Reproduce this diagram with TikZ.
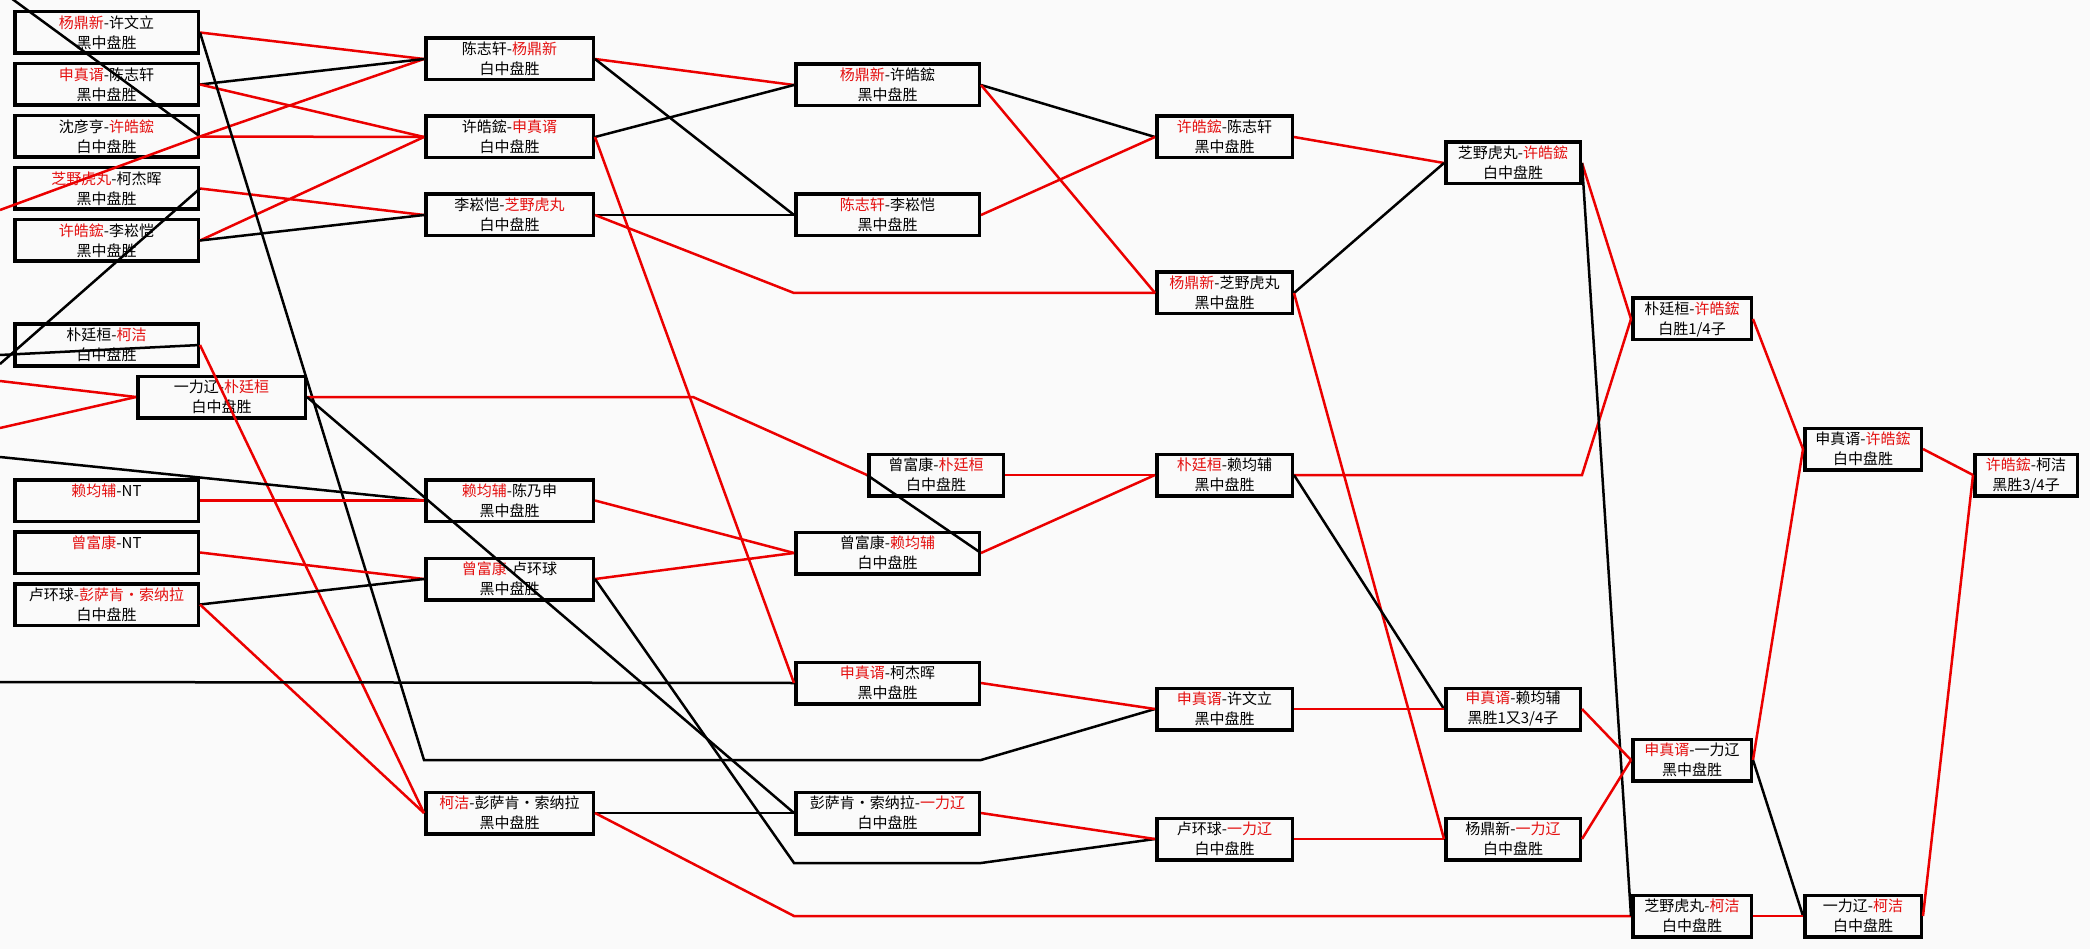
\documentclass[tikz,border=0pt]{standalone}
\usepackage{fontspec}
\setmainfont{Noto Sans CJK SC}
\definecolor{winred}{RGB}{235,0,0}
\definecolor{namered}{RGB}{228,16,16}
\definecolor{paper}{RGB}{250,250,250}
\newcommand{\rd}[1]{\textcolor{namered}{#1}}

\begin{document}
\begin{tikzpicture}[x=1pt, y=-1pt,
  game/.style={draw, line width=3.5pt, align=center, inner sep=0pt,
    minimum width=#1, minimum height=41.5pt, font=\fontsize{15}{20}\selectfont},
  wline/.style={draw=winred, line width=2.5pt},
  lline/.style={draw=black, line width=2.5pt}]
\clip (0,0) rectangle (2090,949);
\fill[paper] (0,0) rectangle (2090,949);

\node[game=183.5pt] (a1) at (106.5,32.5) {\rd{杨鼎新}-许文立\\黑中盘胜};
\node[game=183.5pt] (a2) at (106.5,84.5) {\rd{申真谞}-陈志轩\\黑中盘胜};
\node[game=183.5pt] (a3) at (106.5,136.5) {沈彦亨-\rd{许皓鋐}\\白中盘胜};
\node[game=183.5pt] (a4) at (106.5,188.5) {\rd{芝野虎丸}-柯杰晖\\黑中盘胜};
\node[game=183.5pt] (a5) at (106.5,240.5) {\rd{许皓鋐}-李崧恺\\黑中盘胜};
\node[game=183.5pt] (a6) at (106.5,345) {朴廷桓-\rd{柯洁}\\白中盘胜};
\node[game=167.5pt] (a7) at (221.5,397) {一力辽-\rd{朴廷桓}\\白中盘胜};
\node[game=183.5pt] (a8) at (106.5,500.5) {\rd{赖均辅}-NT\\~};
\node[game=183.5pt] (a9) at (106.5,552.5) {\rd{曾富康}-NT\\~};
\node[game=183.5pt] (a10) at (106.5,604.5) {卢环球-\rd{彭萨肯・索纳拉}\\白中盘胜};

\node[game=167.5pt] (b1) at (509.5,59) {陈志轩-\rd{杨鼎新}\\白中盘胜};
\node[game=167.5pt] (b2) at (509.5,137) {许皓鋐-\rd{申真谞}\\白中盘胜};
\node[game=167.5pt] (b3) at (509.5,215) {李崧恺-\rd{芝野虎丸}\\白中盘胜};
\node[game=167.5pt] (b4) at (509.5,500.5) {\rd{赖均辅}-陈乃申\\黑中盘胜};
\node[game=167.5pt] (b5) at (509.5,579) {\rd{曾富康}-卢环球\\黑中盘胜};
\node[game=167.5pt] (b6) at (509.5,813) {\rd{柯洁}-彭萨肯・索纳拉\\黑中盘胜};

\node[game=183.5pt] (c1) at (887.5,85) {\rd{杨鼎新}-许皓鋐\\黑中盘胜};
\node[game=183.5pt] (c2) at (887.5,215) {\rd{陈志轩}-李崧恺\\黑中盘胜};
\node[game=134.5pt] (c3) at (936,475) {曾富康-\rd{朴廷桓}\\白中盘胜};
\node[game=183.5pt] (c4) at (887.5,553) {曾富康-\rd{赖均辅}\\白中盘胜};
\node[game=183.5pt] (c5) at (887.5,683) {\rd{申真谞}-柯杰晖\\黑中盘胜};
\node[game=183.5pt] (c6) at (887.5,813) {彭萨肯・索纳拉-\rd{一力辽}\\白中盘胜};

\node[game=135.5pt] (d1) at (1224.5,137) {\rd{许皓鋐}-陈志轩\\黑中盘胜};
\node[game=135.5pt] (d2) at (1224.5,293) {\rd{杨鼎新}-芝野虎丸\\黑中盘胜};
\node[game=135.5pt] (d3) at (1224.5,475) {\rd{朴廷桓}-赖均辅\\黑中盘胜};
\node[game=135.5pt] (d4) at (1224.5,709) {\rd{申真谞}-许文立\\黑中盘胜};
\node[game=135.5pt] (d5) at (1224.5,839) {卢环球-\rd{一力辽}\\白中盘胜};

\node[game=134.5pt] (e1) at (1513,163) {芝野虎丸-\rd{许皓鋐}\\白中盘胜};
\node[game=134.5pt] (e2) at (1513,709) {\rd{申真谞}-赖均辅\\黑胜1又3/4子};
\node[game=134.5pt] (e3) at (1513,839) {杨鼎新-\rd{一力辽}\\白中盘胜};

\node[game=118.5pt] (f1) at (1692,319) {朴廷桓-\rd{许皓鋐}\\白胜1/4子};
\node[game=118.5pt] (f2) at (1692,760) {\rd{申真谞}-一力辽\\黑中盘胜};
\node[game=118.5pt] (f3) at (1692,916) {芝野虎丸-\rd{柯洁}\\白中盘胜};

\node[game=116.5pt] (g1) at (1863,449) {申真谞-\rd{许皓鋐}\\白中盘胜};
\node[game=116.5pt] (g2) at (1863,916) {一力辽-\rd{柯洁}\\白中盘胜};

\node[game=102.5pt] (h1) at (2026,475) {\rd{许皓鋐}-柯洁\\黑胜3/4子};

% free ends at the left edge and bends
\coordinate (w1) at (0,-10);
\coordinate (w2) at (0,210);
\coordinate (w3) at (0,364);
\coordinate (w4) at (0,355);
\coordinate (w5) at (0,381);
\coordinate (w6) at (0,428);
\coordinate (w7) at (0,457);
\coordinate (w8) at (0,682);
\coordinate (p1) at (424,760);
\coordinate (p2) at (981,760);
\coordinate (p3) at (794,293);
\coordinate (p4) at (693,397);
\coordinate (p5) at (794,863);
\coordinate (p6) at (981,863);
\coordinate (p7) at (794,916);
\coordinate (p8) at (1582,475);

\path[lline] (w1) -- (a3.east);
\path[wline] (w2) -- (a3.east) -- (b1.west);
\path[wline] (a1.east) -- (b1.west);
\path[lline] (a2.east) -- (b1.west);
\path[wline] (a2.east) -- (b2.west);
\path[wline] (a3.east) -- (b2.west);
\path[wline] (a4.east) -- (b3.west);
\path[lline] (a4.east) -- (w3);
\path[wline] (a5.east) -- (b2.west);
\path[lline] (a5.east) -- (b3.west);
\path[lline] (a1.east) -- (p1) -- (p2) -- (d4.west);
\path[lline] (a6.east) -- (w4);
\path[wline] (a6.east) -- (b6.west);
\path[wline] (w5) -- (a7.west);
\path[wline] (w6) -- (a7.west);
\path[wline] (a7.east) -- (p4) -- (c3.west);
\path[lline] (a7.east) -- (c6.west);
\path[lline] (w7) -- (b4.west);
\path[wline] (a8.east) -- (b4.west);
\path[wline] (a9.east) -- (b5.west);
\path[lline] (a10.east) -- (b5.west);
\path[wline] (a10.east) -- (b6.west);
\path[lline] (w8) -- (c5.west);

\path[wline] (b1.east) -- (c1.west);
\path[lline] (b1.east) -- (c2.west);
\path[lline] (b2.east) -- (c1.west);
\path[wline] (b2.east) -- (c5.west);
\path[lline] (b3.east) -- (c2.west);
\path[wline] (b3.east) -- (p3) -- (d2.west);
\path[wline] (b4.east) -- (c4.west);
\path[wline] (b5.east) -- (c4.west);
\path[lline] (b5.east) -- (p5) -- (p6) -- (d5.west);
\path[lline] (b6.east) -- (c6.west);
\path[wline] (b6.east) -- (p7) -- (f3.west);
\path[lline] (c4.east) -- (c3.west);

\path[lline] (c1.east) -- (d1.west);
\path[wline] (c1.east) -- (d2.west);
\path[wline] (c2.east) -- (d1.west);
\path[wline] (c3.east) -- (d3.west);
\path[wline] (c4.east) -- (d3.west);
\path[wline] (c5.east) -- (d4.west);
\path[wline] (c6.east) -- (d5.west);

\path[wline] (d1.east) -- (e1.west);
\path[lline] (d2.east) -- (e1.west);
\path[wline] (d2.east) -- (e3.west);
\path[wline] (d3.east) -- (p8) -- (f1.west);
\path[lline] (d3.east) -- (e2.west);
\path[wline] (d4.east) -- (e2.west);
\path[wline] (d5.east) -- (e3.west);

\path[wline] (e1.east) -- (f1.west);
\path[lline] (e1.east) -- (f3.west);
\path[wline] (e2.east) -- (f2.west);
\path[wline] (e3.east) -- (f2.west);

\path[wline] (f1.east) -- (g1.west);
\path[wline] (f2.east) -- (g1.west);
\path[lline] (f2.east) -- (g2.west);
\path[wline] (f3.east) -- (g2.west);
\path[wline] (g1.east) -- (h1.west);
\path[wline] (g2.east) -- (h1.west);
\end{tikzpicture}
\end{document}
